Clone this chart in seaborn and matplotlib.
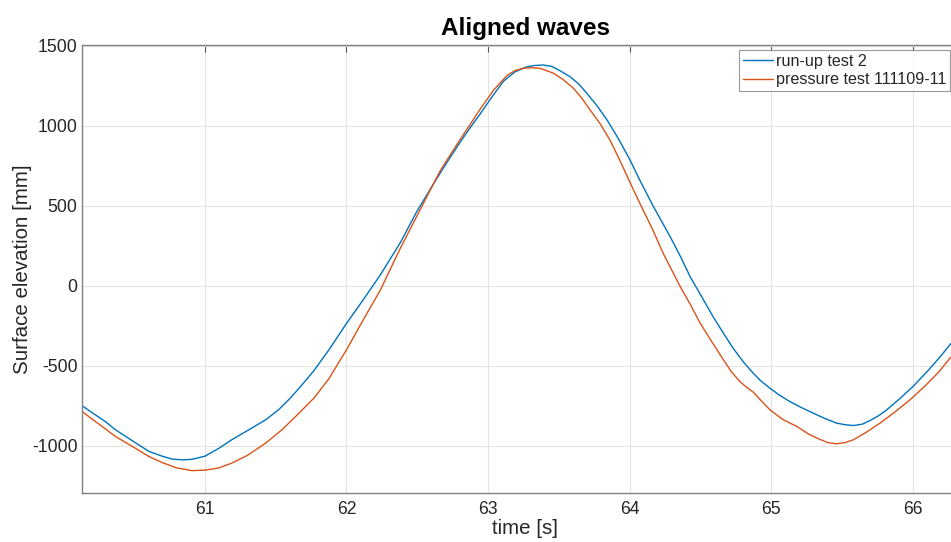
import numpy as np
import pandas as pd
import matplotlib
matplotlib.use("Agg")
import matplotlib.pyplot as plt
import seaborn as sns

# ---- data ----
runup_t = [60.135, 60.2, 60.3, 60.37, 60.5, 60.606, 60.7, 60.77, 60.85, 60.91, 61.0,
           61.1, 61.19, 61.3, 61.43, 61.52, 61.6, 61.68, 61.77, 61.88, 62.0, 62.12,
           62.24, 62.38, 62.5, 62.64, 62.73, 62.8, 62.87, 62.944, 63.03, 63.109, 63.19,
           63.274, 63.33, 63.39, 63.45, 63.508, 63.578, 63.64, 63.697, 63.77, 63.838,
           63.92, 64.0, 64.08, 64.167, 64.285, 64.36, 64.426, 64.52, 64.59, 64.661,
           64.73, 64.802, 64.85, 64.92, 64.99, 65.06, 65.13, 65.21, 65.296, 65.38,
           65.46, 65.52, 65.579, 65.64, 65.696, 65.76, 65.814, 65.9, 66.0, 66.1,
           66.18, 66.27]
runup_v = [-750, -790, -850, -900, -975, -1035, -1065, -1083, -1088, -1084, -1065,
           -1015, -962, -905, -837, -775, -705, -625, -530, -395, -235, -85,
           70, 270, 470, 675, 800, 895, 985, 1075, 1185, 1280, 1338,
           1370, 1378, 1381, 1372, 1345, 1308, 1262, 1204, 1125, 1040,
           920, 790, 645, 496, 308, 180, 58, -87, -195, -296,
           -390, -475, -525, -590, -640, -685, -723, -760, -796, -830,
           -858, -868, -873, -865, -842, -810, -775, -710, -629, -535,
           -455, -358]

pressure_t = [60.135, 60.2, 60.3, 60.37, 60.5, 60.606, 60.7, 60.8, 60.91, 61.0,
              61.1, 61.19, 61.3, 61.43, 61.55, 61.66, 61.77, 61.876, 62.0, 62.12,
              62.24, 62.38, 62.544, 62.662, 62.78, 62.87, 62.944, 63.04, 63.133,
              63.19, 63.25, 63.31, 63.368, 63.46, 63.53, 63.603, 63.66, 63.72,
              63.79, 63.86, 63.93, 64.0, 64.072, 64.16, 64.238, 64.356, 64.43,
              64.497, 64.58, 64.661, 64.72, 64.78, 64.826, 64.873, 64.93, 64.99,
              65.08, 65.18, 65.26, 65.343, 65.4, 65.46, 65.52, 65.579, 65.67,
              65.767, 65.87, 65.979, 66.08, 66.18, 66.27]
pressure_v = [-786, -830, -895, -942, -1010, -1067, -1105, -1138, -1155, -1152,
              -1138, -1108, -1060, -983, -895, -800, -702, -580, -400, -210,
              -25, 235, 517, 720, 885, 1005, 1105, 1225, 1315,
              1346, 1361, 1364, 1360, 1330, 1290, 1235, 1175, 1100,
              1015, 912, 785, 650, 515, 355, 200, -4, -120,
              -233, -350, -462, -540, -600, -635, -665, -720, -775,
              -835, -879, -925, -960, -980, -987, -980, -962, -915,
              -858, -790, -712, -630, -540, -442]

labels = ["run-up test 2", "pressure test 111109-11"]
colors = ["#0072BD", "#D95319"]
x_ticks = [61, 62, 63, 64, 65, 66]
y_ticks = [-1000, -500, 0, 500, 1000, 1500]

df = pd.concat([
    pd.DataFrame({"time": runup_t, "elev": runup_v, "series": labels[0]}),
    pd.DataFrame({"time": pressure_t, "elev": pressure_v, "series": labels[1]}),
])

sns.set_style("white")
plt.rcParams["font.family"] = ["Liberation Sans", "DejaVu Sans"]

W, H = 951, 542
fig = plt.figure(figsize=(W / 100, H / 100), dpi=100)
ax_left, ax_right, ax_top, ax_bot = 82.3, 968.0, 45.0, 492.7
ax = fig.add_axes([ax_left / W, 1 - ax_bot / H, (ax_right - ax_left) / W, (ax_bot - ax_top) / H])

sns.lineplot(data=df, x="time", y="elev", hue="series", palette=colors,
             hue_order=labels, sort=False, estimator=None, linewidth=1.0, ax=ax)

ax.set_xlim(60.135, 66.388)
ax.set_ylim(-1293, 1506)
ax.set_xticks(x_ticks)
ax.set_yticks(y_ticks)
ax.set_xticklabels([str(t) for t in x_ticks])
ax.set_yticklabels([str(t) for t in y_ticks])

ax.grid(True, color="#e3e3e3", linewidth=0.8)
ax.set_axisbelow(True)
for s in ["left", "bottom", "top", "right"]:
    ax.spines[s].set_color("#808080")
    ax.spines[s].set_linewidth(1.0)
ax.tick_params(axis="both", direction="in", length=5, width=0.8, color="#555555",
               labelsize=12.7, labelcolor="#262626", top=True, right=False)
ax.tick_params(axis="x", pad=6.0)
ax.tick_params(axis="y", pad=3.5)

ax.set_xlabel("time [s]", fontsize=14.8, color="#262626", labelpad=1)
ax.set_ylabel("Surface elevation [mm]", fontsize=14.8, color="#262626", labelpad=0)
ax.set_title("Aligned waves", fontsize=17.5, fontweight="bold", color="black", pad=7)

leg = ax.legend(loc="upper right", bbox_to_anchor=(950 / W, 1 - 50 / H),
                bbox_transform=fig.transFigure, fontsize=11.6, frameon=True,
                fancybox=False, borderpad=0.25, handlelength=1.9, handletextpad=0.15,
                labelspacing=0.2, borderaxespad=0.0, title=None)
leg.get_frame().set_edgecolor("#808080")
leg.get_frame().set_linewidth(0.8)
for line in leg.get_lines():
    line.set_linewidth(1.0)

fig.savefig("out.png", dpi=100)
